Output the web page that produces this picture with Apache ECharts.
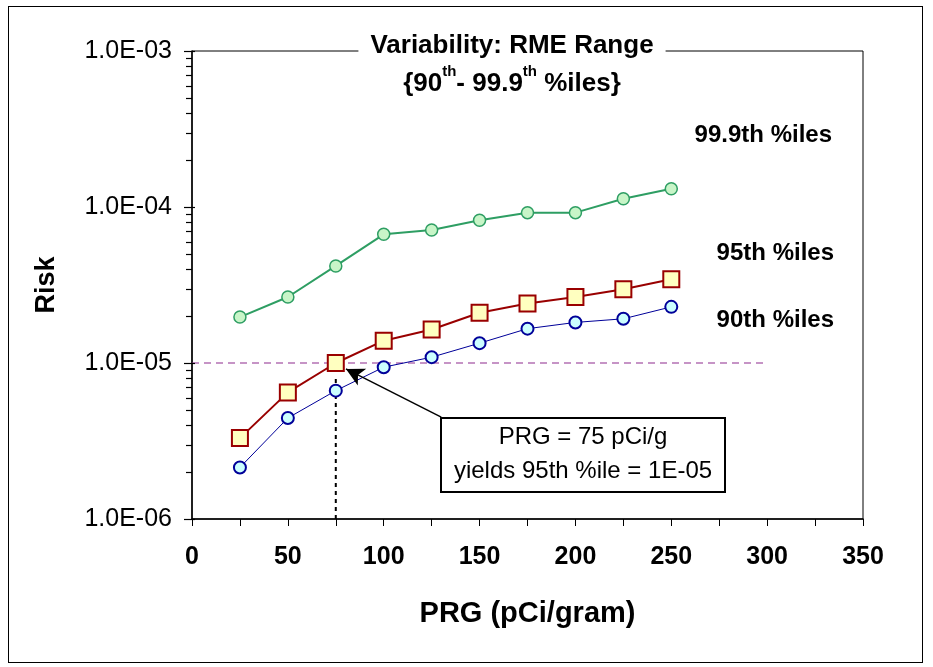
<!DOCTYPE html>
<html>
<head>
<meta charset="utf-8">
<script src="https://cdn.jsdelivr.net/npm/echarts@6/dist/echarts.min.js"></script>
<style>
  html, body { margin: 0; padding: 0; background: #fff; }
  #chart { width: 933px; height: 667px; }
  #frame { position: absolute; left: 8px; top: 6px; width: 913px; height: 655px; border: 1px solid #000; pointer-events: none; }
</style>
</head>
<body>
<div id="chart"></div>
<div id="frame"></div>
<script>
// PRG values (pCi/gram)
var prg = [25, 50, 75, 100, 125, 150, 175, 200, 225, 250]
// risk at each percentile
var p999 = [1.97e-5, 2.65e-5, 4.19e-5, 6.68e-5, 7.13e-5, 8.22e-5, 9.2e-5, 9.2e-5, 1.13e-4, 1.31e-4]
var p95 = [3.30e-6, 6.48e-6, 1.0e-5, 1.39e-5, 1.64e-5, 2.10e-5, 2.41e-5, 2.65e-5, 2.97e-5, 3.44e-5]
var p90 = [2.14e-6, 4.44e-6, 6.65e-6, 9.4e-6, 1.09e-5, 1.34e-5, 1.66e-5, 1.82e-5, 1.92e-5, 2.29e-5]
// target risk line and the PRG reading
var targetRisk = 1e-5
var targetSpan = [0, 300]
var guideX = 75
var guideTop = 8.2e-6
var arrowFrom = [130, 4.5e-6]
var arrowTo = [80.3, 9.16e-6]
var yTicks = [1e-6, 1e-5, 1e-4, 1e-3]

function pairs (xs, ys) {
  return xs.map(function (x, i) { return [x, ys[i]] })
}

// y ticks: majors cross the axis, minors (2..9 per decade) sit outside
var tickMarks = []
yTicks.forEach(function (d, i) {
  tickMarks.push([0, d, 1])
  if (i < 3) {
    for (var k = 2; k <= 9; k++) tickMarks.push([0, d * k, 0])
  }
})

var font = '"Liberation Sans", Arial, sans-serif'

var chart = echarts.init(document.getElementById('chart'))
var option = {
  backgroundColor: '#fff',
  animation: false,
  textStyle: { fontFamily: font },
  title: {
    text: '{t|Variability: RME Range}\n{m|{90}{s|th}{m|- 99.9}{s|th}{m| %iles}}',
    left: 500,
    textAlign: 'center',
    top: 28,
    backgroundColor: '#fff',
    padding: [0, 12, 0, 12],
    textStyle: {
      fontFamily: font,
      fontSize: 26,
      fontWeight: 'bold',
      color: '#000',
      lineHeight: 40,
      rich: {
        t: { fontFamily: font, fontSize: 26, fontWeight: 'bold', color: '#000', lineHeight: 36 },
        m: { fontFamily: font, fontSize: 26, fontWeight: 'bold', color: '#000', lineHeight: 40 },
        s: { fontFamily: font, fontSize: 15, fontWeight: 'bold', color: '#000', verticalAlign: 'top', lineHeight: 40 }
      }
    }
  },
  grid: {
    left: 192,
    top: 51,
    right: 70,
    bottom: 148,
    show: true,
    borderColor: '#000',
    borderWidth: 1
  },
  xAxis: {
    type: 'value',
    min: 0,
    max: 350,
    interval: 50,
    name: 'PRG (pCi/gram)',
    nameLocation: 'middle',
    nameGap: 80,
    nameTextStyle: { fontFamily: font, fontSize: 29, fontWeight: 'bold', color: '#000' },
    axisLine: { show: true, lineStyle: { color: '#000', width: 1.5 } },
    axisTick: { show: true, length: 7, lineStyle: { color: '#000' } },
    minorTick: { show: true, splitNumber: 2, length: 7, lineStyle: { color: '#000' } },
    splitLine: { show: false },
    axisLabel: { fontFamily: font, fontSize: 25, fontWeight: 'bold', color: '#000', margin: 26 }
  },
  yAxis: {
    type: 'log',
    logBase: 10,
    min: 1e-6,
    max: 1e-3,
    name: 'Risk',
    nameLocation: 'middle',
    nameGap: 132,
    nameRotate: 90,
    nameTextStyle: { fontFamily: font, fontSize: 27, fontWeight: 'bold', color: '#000' },
    axisLine: { show: true, lineStyle: { color: '#000', width: 1.5 } },
    axisTick: { show: false },
    splitLine: { show: false },
    axisLabel: {
      fontFamily: font,
      fontSize: 25,
      color: '#000',
      margin: 20,
      formatter: function (v) {
        var e = Math.round(Math.log10(v))
        return '1.0E-' + (Math.abs(e) < 10 ? '0' : '') + Math.abs(e)
      }
    }
  },
  graphic: [
    {
      type: 'text',
      x: 832, y: 135,
      style: { text: '99.9th %iles', fill: '#000', font: 'bold 24px ' + font, textAlign: 'right', textVerticalAlign: 'middle' },
      z: 10
    },
    {
      type: 'text',
      x: 834, y: 253,
      style: { text: '95th %iles', fill: '#000', font: 'bold 24px ' + font, textAlign: 'right', textVerticalAlign: 'middle' },
      z: 10
    },
    {
      type: 'text',
      x: 834, y: 320,
      style: { text: '90th %iles', fill: '#000', font: 'bold 24px ' + font, textAlign: 'right', textVerticalAlign: 'middle' },
      z: 10
    },
    {
      type: 'rect',
      shape: { x: 441, y: 418, width: 284, height: 74 },
      style: { fill: '#fff', stroke: '#000', lineWidth: 2 },
      z: 10
    },
    {
      type: 'text',
      x: 583, y: 437,
      style: { text: 'PRG = 75 pCi/g', fill: '#000', font: '24px ' + font, textAlign: 'center', textVerticalAlign: 'middle' },
      z: 11
    },
    {
      type: 'text',
      x: 583, y: 471,
      style: { text: 'yields 95th %ile = 1E-05', fill: '#000', font: '24px ' + font, textAlign: 'center', textVerticalAlign: 'middle' },
      z: 11
    }
  ],
  series: [
    {
      name: 'target',
      type: 'line',
      data: [[targetSpan[0], targetRisk], [targetSpan[1], targetRisk]],
      symbol: 'none',
      lineStyle: { color: '#8e2a8e', width: 1.2, type: [7, 5] },
      z: 1
    },
    {
      name: 'guide',
      type: 'line',
      data: [[guideX, yTicks[0]], [guideX, guideTop]],
      symbol: 'none',
      lineStyle: { color: '#000', width: 2, type: [4, 4] },
      z: 1,
      markLine: {
        silent: true,
        symbol: ['none', 'arrow'],
        symbolSize: [14, 18],
        label: { show: false },
        lineStyle: { color: '#000', width: 1.5, type: 'solid' },
        data: [[{ coord: arrowFrom }, { coord: arrowTo }]]
      }
    },
    {
      name: '99.9th %iles',
      type: 'line',
      data: pairs(prg, p999),
      symbol: 'circle',
      symbolSize: 12,
      lineStyle: { color: '#2e9e63', width: 2 },
      itemStyle: { color: '#c8f5c8', borderColor: '#2e9e63', borderWidth: 1.5 },
      z: 3
    },
    {
      name: '95th %iles',
      type: 'line',
      data: pairs(prg, p95),
      symbol: 'rect',
      symbolSize: 16,
      lineStyle: { color: '#990000', width: 2 },
      itemStyle: { color: '#ffffc0', borderColor: '#990000', borderWidth: 2 },
      z: 3
    },
    {
      name: '90th %iles',
      type: 'line',
      data: pairs(prg, p90),
      symbol: 'circle',
      symbolSize: 12,
      lineStyle: { color: '#000099', width: 1 },
      itemStyle: { color: '#ccffff', borderColor: '#000099', borderWidth: 2 },
      z: 3
    },
    {
      name: 'y ticks',
      type: 'custom',
      clip: false,
      data: tickMarks,
      renderItem: function (params, api) {
        var p = api.coord([api.value(0), api.value(1)])
        var major = api.value(2) === 1
        var y = Math.round(p[1]) + 0.5
        return {
          type: 'line',
          shape: { x1: p[0] - (major ? 8 : 6), y1: y, x2: p[0] + (major ? 3 : 0), y2: y },
          style: { stroke: '#000', lineWidth: 1.2 }
        }
      },
      z: 5
    }
  ]
}
chart.setOption(option)
</script>
</body>
</html>
